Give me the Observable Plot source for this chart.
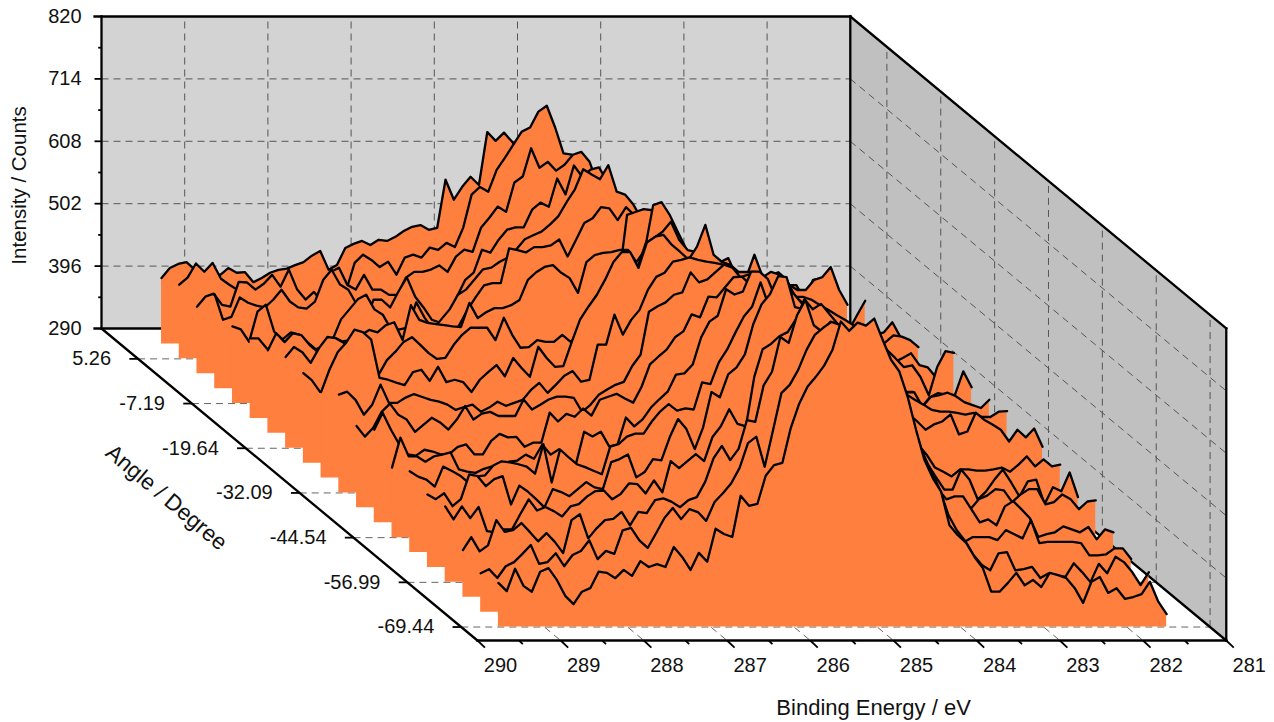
<!DOCTYPE html>
<html><head><meta charset="utf-8">
<style>html,body{margin:0;padding:0;background:#fff;overflow:hidden}svg{display:block}</style>
<script src="https://cdn.jsdelivr.net/npm/d3@7"></script>
<script src="https://cdn.jsdelivr.net/npm/@observablehq/plot@0.6"></script>
</head><body><script>
// Angle of each spectrum, back to front (degrees)
const angles=[9.41,5.26,1.11,-3.04,-7.19,-11.34,-15.49,-19.64,-23.79,-27.94,-32.09,-36.24,-40.39,-44.54,-48.69,-52.84,-56.99,-61.14,-65.29,-69.44];
// Intensity (counts), one list per angle, 289.5 eV downwards
const s0=[402,419,426,429,416,412,412,407,419,411,412,395,402,411,416,418,424,429,440,448,416,424,453,460,465,458,467,465,472,482,489,492,484,487,569,535,557,574,560,650,635,649,633,616,594,577,560,543,518,501,492,475,467,458,450,441,433,424,416,407,399,399,390,390,390,390,390,390,390,390,390,390,390,390,390,390,390,365,399,402,365];
const s1=[416,428,452,438,453,426,416,407,399,399,399,407,399,407,394,382,390,382,416,416,407,453,467,458,446,455,433,462,467,462,479,475,487,480,513,569,582,574,611,632,654,676,683,710,720,683,639,637,603,577,560,543,535,518,509,492,484,467,458,450,441,433,424,424,424,416,416,416,416,416,416,416,416,416,407,407,424,429,446,407,382];
const s2=[404,421,426,407,404,446,445,433,443,458,438,467,433,416,429,412,463,470,441,433,458,433,433,424,424,453,463,463,467,474,463,489,501,497,538,555,574,565,615,625,673,640,650,635,645,662,667,650,611,594,577,565,552,535,521,509,501,487,475,467,458,450,446,441,436,433,433,433,429,424,416,407,399,395,395,395,382,373,363,389,414];
const s3=[450,407,412,445,436,431,428,441,458,438,428,426,438,475,492,467,458,433,402,441,441,428,455,479,446,428,407,402,404,446,475,487,526,521,543,560,564,564,594,606,599,647,620,669,650,662,666,642,625,611,586,569,552,535,526,513,501,492,484,475,467,458,455,450,445,441,441,438,433,433,424,416,407,399,390,382,377,382,385,397,373];
const s4=[421,416,395,446,458,412,399,411,407,394,382,390,399,433,450,467,475,450,441,416,416,419,462,436,416,433,450,475,484,501,518,521,531,538,552,569,576,582,594,608,632,654,688,679,671,695,650,645,628,603,586,569,552,543,531,521,514,504,497,492,487,480,475,470,467,467,463,458,453,450,446,441,436,429,423,416,412,407,411,428,402];
const s5=[426,426,409,397,392,375,402,392,384,418,428,421,423,431,423,414,406,402,402,414,428,419,394,397,411,448,474,496,516,520,520,579,576,572,581,581,584,594,565,593,622,630,649,647,627,649,635,618,601,584,576,567,555,542,533,525,516,508,499,494,491,487,482,477,474,470,465,460,457,453,448,443,440,431,426,414,419,431,429,423,411];
const s6=[431,460,445,460,457,440,428,424,424,426,400,380,380,397,389,394,411,411,400,394,448,448,457,457,482,474,482,491,491,499,499,516,533,550,550,542,533,516,525,533,542,542,550,661,666,671,669,644,618,601,587,581,567,559,550,542,533,525,516,508,499,491,482,474,465,457,448,440,431,428,423,418,414,411,411,411,418,426,406,402,385];
const s7=[445,462,453,435,460,479,477,469,474,482,491,487,499,504,474,533,508,503,501,499,497,496,537,511,521,528,528,533,542,576,589,598,601,588,579,554,606,618,622,623,627,627,606,627,703,708,686,656,627,618,613,606,606,613,581,579,576,567,584,589,576,547,547,542,533,525,516,508,499,491,482,474,457,443,428,431,411,380,428,455,452];
const s8=[443,431,411,418,411,414,423,431,435,440,465,479,496,504,491,477,467,469,491,508,520,520,520,499,537,508,486,487,499,496,496,508,496,508,520,503,491,533,567,615,622,664,673,683,700,669,652,649,627,618,610,605,601,605,644,606,615,610,593,572,559,542,530,520,508,499,491,482,469,457,440,423,411,411,385,402,409,406,406,446,419];
const s9=[436,474,504,520,542,538,525,460,457,452,448,470,474,455,479,453,457,453,436,457,470,482,463,494,477,462,513,494,479,480,521,559,581,601,627,657,674,674,647,690,700,703,686,674,661,683,720,669,657,652,640,640,640,618,593,584,576,567,559,555,550,538,533,525,516,508,494,482,465,448,435,436,411,428,431,435,429,419,414,409,423];
const s10=[457,462,448,423,440,474,443,443,452,458,453,448,445,440,431,436,440,428,435,445,438,443,448,465,477,460,474,489,497,479,482,542,542,593,559,584,601,635,657,664,683,686,690,686,683,681,678,673,656,661,652,644,635,627,618,610,601,593,584,576,567,559,542,533,525,508,491,474,457,448,440,431,428,428,426,423,426,419,419,428,429];
const s11=[429,411,426,453,467,448,440,419,431,443,435,423,440,463,440,450,453,446,446,446,474,457,465,474,479,479,477,453,465,482,491,499,504,531,550,623,632,639,652,656,690,673,678,691,703,698,681,669,661,652,644,635,627,618,610,601,593,584,567,550,533,516,499,482,465,448,440,431,419,380,370,375,389,409,397,363,363,368,355,346,338];
const s12=[448,477,448,423,406,404,414,411,406,407,419,423,406,406,429,441,435,436,419,426,426,477,462,475,470,484,472,499,504,509,501,494,521,559,572,584,605,615,644,639,674,673,690,707,708,695,686,678,669,661,644,635,627,618,610,601,584,567,550,533,525,525,508,491,474,462,448,457,462,474,440,445,477,465,457,448,428,448,435,450,419];
const s13=[409,460,428,428,419,428,431,435,406,402,400,407,411,409,419,421,431,424,448,431,440,426,414,470,462,470,445,448,494,479,491,511,525,538,567,569,584,630,657,667,712,703,708,742,742,729,695,678,661,644,635,627,618,610,601,593,576,550,533,516,499,482,465,448,431,409,402,394,406,406,404,404,406,409,402,414,428,411,423,411,414];
const s14=[428,419,414,402,436,429,421,409,419,421,438,445,443,440,436,424,474,409,465,452,440,435,429,423,470,474,487,492,492,513,530,542,531,535,533,579,576,613,635,664,691,708,749,708,720,737,729,712,695,678,661,644,635,627,618,601,584,559,533,508,482,474,440,418,397,397,431,414,380,394,414,431,409,385,411,414,372,401,394,426,384];
const s15=[414,406,416,394,406,448,445,428,440,445,397,429,419,406,392,423,418,411,423,435,426,423,469,474,482,443,452,474,472,511,542,525,491,528,588,579,618,630,652,703,737,754,785,783,732,729,720,712,695,678,669,661,652,644,635,618,593,559,525,491,457,414,380,372,367,389,406,412,423,421,401,414,423,423,397,401,414,406,389,402,404];
const s16=[419,397,419,399,418,377,375,380,380,406,431,412,418,411,402,419,423,436,445,446,431,440,458,457,441,463,443,496,484,496,508,496,537,555,584,559,555,639,686,695,708,715,737,771,754,763,746,729,712,686,669,661,652,644,627,601,550,499,474,448,431,436,436,414,392,397,387,419,428,414,399,367,372,375,385,380,375,384,363,380,375];
const s17=[370,392,368,378,421,401,404,416,401,385,399,384,365,421,431,390,407,421,423,435,412,435,433,455,458,452,443,455,460,486,526,547,523,542,591,588,650,673,732,722,769,795,752,741,758,744,735,718,710,693,676,667,633,608,565,523,489,446,409,395,384,392,392,392,387,404,397,390,421,382,384,384,384,384,382,361,361,363,373,373,355];
const s18=[356,363,348,368,375,389,404,372,375,390,368,387,394,412,380,394,389,429,433,412,399,424,450,467,448,465,460,445,477,492,509,535,577,588,537,599,662,676,701,735,761,773,783,778,769,766,761,752,744,718,690,650,599,557,528,497,455,429,411,387,370,361,390,392,361,363,367,348,356,353,350,373,358,341,372,356,384,375,358,336,358];
const s19=[365,351,389,360,350,384,390,370,343,329,350,356,384,382,373,387,377,402,392,397,392,426,409,387,416,401,457,448,443,513,496,499,547,565,569,628,669,698,715,734,761,809,793,807,802,814,778,744,724,681,625,574,543,520,463,446,433,409,390,350,350,365,382,361,370,358,382,378,373,356,331,367,375,348,356,338,341,346,367,333,312];
const spectra=[s0,s1,s2,s3,s4,s5,s6,s7,s8,s9,s10,s11,s12,s13,s14,s15,s16,s17,s18,s19];

// Axis ticks
const energyTicks=[290,289,288,287,286,285,284,283,282,281];
const energyMinor=[289.5,288.5,287.5,286.5,285.5,284.5,283.5,282.5,281.5];
const countTicks=[290,396,502,608,714,820];
const countMinor=[343,449,555,661,767];
const angleTicks=[5.26,-7.19,-19.64,-32.09,-44.54,-56.99,-69.44];
const angleLabels=["5.26","-7.19","-19.64","-32.09","-44.54","-56.99","-69.44"];

// Oblique projection of (energy, angle, counts) on the plane of the plot
const energyStart=289.5, energyStep=0.1004, backAngle=13.72;
const seriesShear=0.05135, frameShear=0.052, countsPerDeg=6.098;
const depthU=4.519, depthV=530;
const U=(e,a,s=seriesShear)=>(290-e)+(backAngle-a)*s;
const V=(c,a)=>c-(backAngle-a)*countsPerDeg;

const ORANGE="#FF7F3F", FONT="Liberation Sans, Arial, sans-serif", INK="#111";
const link=(rows,o)=>Plot.link(rows,{x1:"x1",y1:"y1",x2:"x2",y2:"y2",...o});
const solid={stroke:"black",strokeWidth:2.3,strokeLinecap:"square"};
const thin={stroke:"black",strokeWidth:1.8};
const dashBack={stroke:"#555",strokeWidth:1,strokeDasharray:"7,5"};
const dashFloor={stroke:"#666",strokeWidth:1,strokeDasharray:"7,5"};

const marks=[];
// Walls
marks.push(Plot.area([{x:0},{x:9}],{x1:"x",y1:()=>290,y2:()=>820,fill:"#D3D3D3"}));
marks.push(Plot.area([{x:9,b:290,t:820},{x:9+depthU,b:290-depthV,t:820-depthV}],{x1:"x",y1:"b",y2:"t",fill:"#C0C0C0"}));
// Back wall grid
marks.push(link(energyTicks.slice(1,-1).map(e=>({x1:290-e,x2:290-e,y1:290,y2:820})),dashBack));
marks.push(link(countTicks.slice(1,-1).map(c=>({x1:0,x2:9,y1:c,y2:c})),dashBack));
// Side wall grid
marks.push(link(countTicks.slice(1,-1).map(c=>({x1:9,x2:9+depthU,y1:c,y2:c-depthV})),dashBack));
marks.push(link(angleTicks.map(a=>({x1:U(281,a,frameShear),x2:U(281,a,frameShear),y1:V(290,a),y2:V(820,a)})),dashBack));
// Floor grid
marks.push(link(energyTicks.slice(1,-1).map(e=>({x1:290-e,x2:290-e+depthU,y1:290,y2:290-depthV})),dashFloor));
marks.push(link(angleTicks.map(a=>({x1:U(290,a,frameShear),x2:U(281,a,frameShear),y1:V(290,a),y2:V(290,a)})),dashFloor));
// Frame
marks.push(link([
 {x1:-0.084,x2:9,y1:290,y2:290},{x1:-0.084,x2:9,y1:820,y2:820},
 {x1:0,x2:0,y1:290,y2:820},{x1:9,x2:9,y1:290,y2:820},
 {x1:0,x2:depthU,y1:290,y2:290-depthV},
 {x1:9,x2:9+depthU,y1:290,y2:290-depthV},
 {x1:9,x2:9+depthU,y1:820,y2:820-depthV},
 {x1:depthU,x2:9+depthU,y1:290-depthV,y2:290-depthV},
 {x1:9+depthU,x2:9+depthU,y1:290-depthV,y2:820-depthV}
],solid));
// Ticks
marks.push(link(countTicks.slice(1,-1).map(c=>({x1:-0.084,x2:0,y1:c,y2:c})),thin));
marks.push(link(countMinor.map(c=>({x1:-0.04,x2:0,y1:c,y2:c})),thin));
marks.push(link(angleTicks.map(a=>({x1:U(290,a,frameShear)-0.105,x2:U(290,a,frameShear),y1:V(290,a),y2:V(290,a)})),thin));
marks.push(link(energyTicks.map(e=>({x1:290-e+depthU,x2:290-e+depthU+0.09,y1:290-depthV,y2:290-depthV-12})),thin));
marks.push(link(energyMinor.map(e=>({x1:290-e+depthU,x2:290-e+depthU+0.045,y1:290-depthV,y2:290-depthV-6})),thin));

// Spectra, back to front
spectra.forEach((vals,i)=>{
  const a=angles[i];
  const rows=vals.map((c,k)=>{const e=energyStart-k*energyStep;return {u:U(e,a),v:V(c,a),base:V(290,a)};});
  marks.push(Plot.area(rows,{x1:"u",y1:"base",y2:"v",fill:ORANGE,curve:"linear"}));
  marks.push(Plot.line(rows,{x:"u",y:"v",stroke:"black",strokeWidth:2.3,curve:"linear",strokeLinejoin:"round"}));
});

// Labels
const txt={fontSize:20,fill:INK};
marks.push(Plot.text(countTicks,{x:()=>-0.24,y:d=>d,text:d=>String(d),textAnchor:"end",...txt}));
marks.push(Plot.text(angleTicks,{x:a=>U(290,a,frameShear),y:a=>V(290,a),text:(a,i)=>angleLabels[i],textAnchor:"end",dx:-27,...txt}));
marks.push(Plot.text(energyTicks,{x:e=>290-e+depthU,y:()=>290-depthV,text:d=>String(d),dx:23,dy:25,...txt}));
marks.push(Plot.text(["Binding Energy / eV"],{x:()=>9.28,y:()=>-354,text:d=>d,fontSize:22,fill:INK}));
marks.push(Plot.text(["Intensity / Counts"],{x:()=>-0.985,y:()=>533,text:d=>d,rotate:-90,fontSize:20.5,fill:INK}));
marks.push(Plot.text(["Angle / Degree"],{x:()=>0.78,y:()=>3,text:d=>d,rotate:40,fontSize:22.5,fill:INK}));

const chart=Plot.plot({
  width:1274,height:722,margin:0,
  style:{background:"white",fontFamily:FONT},
  x:{axis:null,domain:[-101/83.2,(1274-101)/83.2],range:[0,1274]},
  y:{axis:null,domain:[290+328/0.5887,290-(722-328)/0.5887],range:[0,722]},
  marks
});
document.body.appendChild(chart);
</script></body></html>
